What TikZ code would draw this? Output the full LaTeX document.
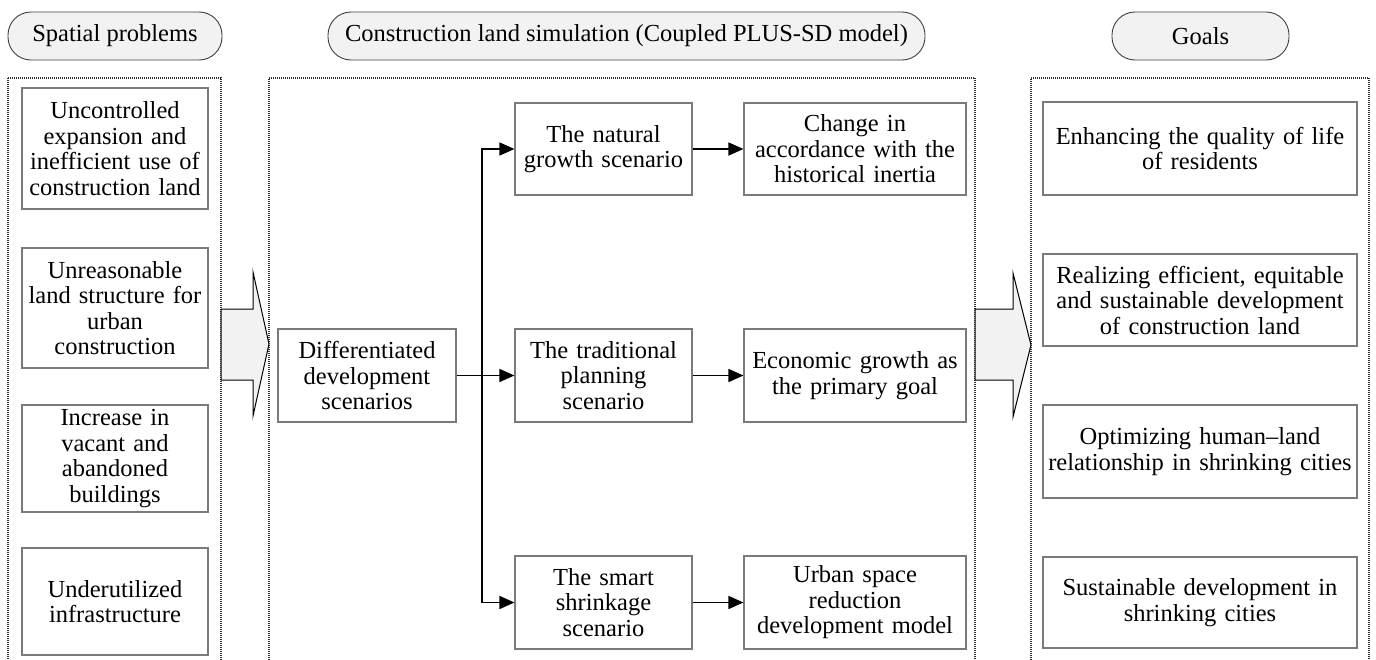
\documentclass[tikz,border=0pt]{standalone}
\usepackage{fontspec}
\setmainfont{Liberation Serif}
\usetikzlibrary{arrows.meta,calc}
\definecolor{pillfill}{HTML}{F2F2F2}
\definecolor{boxline}{HTML}{7A7A7A}
\definecolor{framedot}{HTML}{303030}
\tikzset{
  txt/.style={font=\fontsize{24.5}{25.5}\selectfont, align=center},
  pill/.style={txt, draw=black!75, fill=pillfill, line width=0.9pt, rounded corners=23pt,
    inner sep=0pt, minimum height=48pt},
  box/.style={txt, draw=boxline, line width=1.1pt, inner sep=0pt},
  frame/.style={draw=framedot, line width=1.2pt, dash pattern=on 1pt off 1pt},
  flow/.style={draw=black, line width=1.4pt, -{Triangle[length=15pt,width=13pt]}},
  bigarrow/.style={draw=black, line width=1pt, fill=pillfill, line join=miter},
}
\begin{document}
\begin{tikzpicture}[x=1pt,y=-1pt]
\useasboundingbox (0,0) rectangle (1376,659);

% column frames
\draw[frame] (8,78) -- (8,670) (8,78) -- (221,78) -- (221,670);
\draw[frame] (269,670) -- (269,78) -- (975,78) -- (975,670);
\draw[frame] (1031,670) -- (1031,78) -- (1369,78) -- (1369,670);

% column headings
\node[pill, minimum width=214pt] (hp) at (115,36) {Spatial problems};
\node[pill, minimum width=597pt] (hs) at (626.5,36) {Construction land simulation (Coupled PLUS-SD model)};
\node[pill, minimum width=177pt] (hg) at (1200.5,36) {Goals};

% spatial problems
\node[box, minimum width=186pt, minimum height=121pt, text width=182pt] (p1) at (115,148.5)
  {Uncontrolled\\expansion and\\inefficient use of\\construction land};
\node[box, minimum width=186pt, minimum height=120pt, text width=182pt] (p2) at (115,308)
  {Unreasonable\\land structure for\\urban\\construction};
\node[box, minimum width=186pt, minimum height=107pt, text width=182pt] (p3) at (115,458.5)
  {Increase in\\vacant and\\abandoned\\buildings};
\node[box, minimum width=186pt, minimum height=107pt, text width=182pt] (p4) at (115,601.5)
  {Underutilized\\infrastructure};

% simulation scenarios
\node[box, minimum width=178pt, minimum height=93pt, text width=174pt] (diff) at (367,375.5)
  {Differentiated\\development\\scenarios};
\node[box, minimum width=177pt, minimum height=92pt, text width=173pt] (nat) at (603.5,149)
  {The natural\\growth scenario};
\node[box, minimum width=177pt, minimum height=93pt, text width=173pt] (trad) at (603.5,375.5)
  {The traditional\\planning\\scenario};
\node[box, minimum width=177pt, minimum height=93pt, text width=173pt] (smart) at (603.5,602.5)
  {The smart\\shrinkage\\scenario};
\node[box, minimum width=222pt, minimum height=92pt, text width=218pt] (hist) at (855,149)
  {Change in\\accordance with the\\historical inertia};
\node[box, minimum width=222pt, minimum height=93pt, text width=218pt] (econ) at (855,375.5)
  {Economic growth as\\the primary goal};
\node[box, minimum width=222pt, minimum height=93pt, text width=218pt] (urban) at (855,602.5)
  {Urban space\\reduction\\development model};

% goals
\node[box, minimum width=314pt, minimum height=93pt, text width=310pt] (g1) at (1200,148.5)
  {Enhancing the quality of life\\of residents};
\node[box, minimum width=314pt, minimum height=92pt, text width=310pt] (g2) at (1200,300)
  {Realizing efficient, equitable\\and sustainable development\\of construction land};
\node[box, minimum width=314pt, minimum height=93pt, text width=310pt] (g3) at (1200,451.5)
  {Optimizing human--land\\relationship in shrinking cities};
\node[box, minimum width=314pt, minimum height=91pt, text width=310pt] (g4) at (1200,602.5)
  {Sustainable development in\\shrinking cities};

% branching connectors
\coordinate (split) at (482,375.5);
\draw[flow] (diff) -- (trad);
\draw[flow] (split) |- (nat.west);
\draw[flow] (split) |- (smart.west);
\draw[flow] (nat) -- (hist);
\draw[flow] (trad) -- (econ);
\draw[flow] (smart) -- (urban);

% block arrows between columns
\draw[bigarrow] (221,309) -- (253,309) -- (253,272) -- (269,344) -- (253,416) -- (253,380) -- (221,380) -- cycle;
\draw[bigarrow] (975,309) -- (1013,309) -- (1013,273) -- (1031,345) -- (1013,417) -- (1013,380) -- (975,380) -- cycle;
\end{tikzpicture}
\end{document}
